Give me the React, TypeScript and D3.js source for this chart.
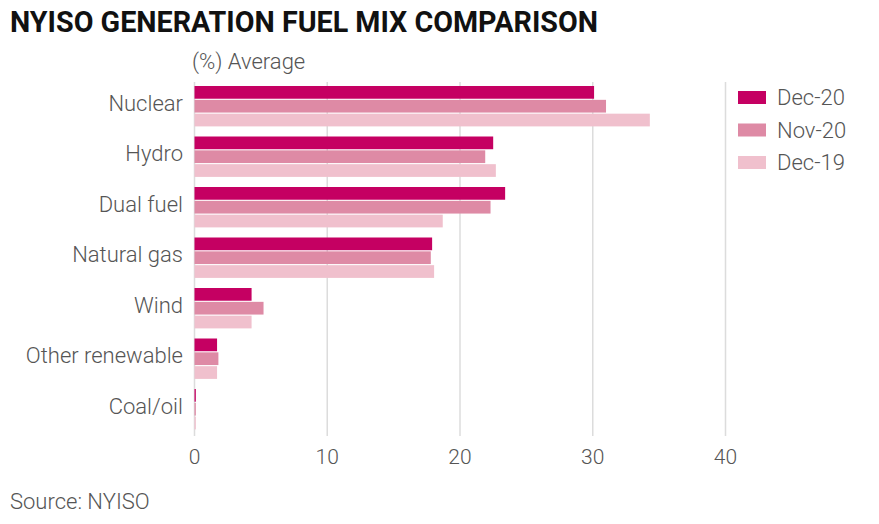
import { scaleBand, scaleLinear } from "d3";

const WIDTH = 879;
const HEIGHT = 524;

const CATEGORIES = ["Nuclear", "Hydro", "Dual fuel", "Natural gas", "Wind", "Other renewable", "Coal/oil"];
const SERIES = ["Dec-20", "Nov-20", "Dec-19"];
const COLORS = ["#c50062", "#de8aa5", "#f0c0cd"];

const DEC20 = [30.1, 22.5, 23.4, 17.9, 4.3, 1.7, 0.1];
const NOV20 = [31.0, 21.9, 22.3, 17.8, 5.2, 1.8, 0.1];
const DEC19 = [34.3, 22.7, 18.7, 18.05, 4.3, 1.7, 0.1];

const TICKS = [0, 10, 20, 30, 40];

const FONT = "Roboto, 'Noto Sans', sans-serif";
const LABEL_SIZE = 22;

export default function App() {
  const values = [DEC20, NOV20, DEC19];

  const x = scaleLinear().domain([0, 40]).range([194.5, 725.5]);
  const y = scaleBand<string>().domain(CATEGORIES).range([86, 86 + 50.5 * 6.8]).paddingInner(0.2).paddingOuter(0);
  const inner = scaleBand<string>().domain(SERIES).range([0, y.bandwidth()]).paddingInner(0.08);

  return (
    <svg width={WIDTH} height={HEIGHT} style={{ display: "block", position: "absolute", left: 0, top: 0 }}>
      <rect width={WIDTH} height={HEIGHT} fill="#fff" />
      <text x={10} y={32} fontFamily={FONT} fontWeight={700} fontSize={30} fill="#111"
        textLength={588} lengthAdjust="spacingAndGlyphs">
        NYISO GENERATION FUEL MIX COMPARISON
      </text>
      <text x={192} y={69} fontFamily={FONT} fontWeight={300} fontSize={LABEL_SIZE} fill="#555">
        (%) Average
      </text>

      {TICKS.map((t) => (
        <g key={t}>
          <line x1={x(t)} x2={x(t)} y1={82} y2={436} stroke="#dcdcdc" strokeWidth={1.5} />
          <text x={x(t)} y={464} textAnchor="middle" fontFamily={FONT} fontWeight={300} fontSize={21} fill="#555">
            {t}
          </text>
        </g>
      ))}

      {CATEGORIES.map((c, i) => (
        <g key={c}>
          <text x={183} y={(y(c) ?? 0) + y.bandwidth() / 2 - 3} dy="0.35em" textAnchor="end"
            fontFamily={FONT} fontWeight={300} fontSize={LABEL_SIZE} fill="#555">
            {c}
          </text>
          {SERIES.map((s, j) => (
            <rect key={s} x={x(0)} y={(y(c) ?? 0) + (inner(s) ?? 0)} width={Math.max(1, x(values[j][i]) - x(0))}
              height={inner.bandwidth()} fill={COLORS[j]} />
          ))}
        </g>
      ))}

      {SERIES.map((s, j) => (
        <g key={s} transform={`translate(738, ${91 + j * 32.5})`}>
          <rect width={28} height={13} fill={COLORS[j]} />
          <text x={39} y={6.5} dy="0.35em" fontFamily={FONT} fontWeight={300} fontSize={LABEL_SIZE} fill="#555">
            {s}
          </text>
        </g>
      ))}

      <text x={10} y={509} fontFamily={FONT} fontWeight={300} fontSize={LABEL_SIZE} fill="#555">
        Source: NYISO
      </text>
    </svg>
  );
}
